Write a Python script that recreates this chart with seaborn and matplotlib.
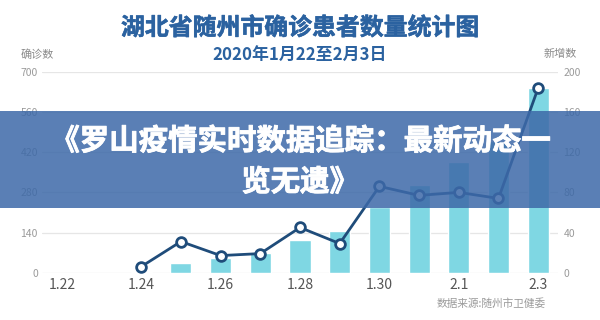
import numpy as np
import pandas as pd
import matplotlib
matplotlib.use("Agg")
import matplotlib.pyplot as plt
import matplotlib.patheffects as pe
import seaborn as sns
from matplotlib.patches import Rectangle

sns.set_theme(style="white")
plt.rcParams['font.family'] = ['Noto Sans CJK SC', 'DejaVu Sans']

dates = ["1.22", "1.23", "1.24", "1.25", "1.26", "1.27", "1.28", "1.29",
         "1.30", "1.31", "2.1", "2.2", "2.3"]
confirmed = [0, 0, 3, 34, 51, 70, 115, 144, 228, 305, 385, 459, 643]
new_cases = [np.nan, np.nan, 6, 31, 17, 19, 45, 29, 86, 77, 80, 74, 184]
shown_ticks = ["1.22", "1.24", "1.26", "1.28", "1.30", "2.1", "2.3"]
left_ticks = [0, 140, 280, 420, 560, 700]
right_ticks = [0, 40, 80, 120, 160, 200]

title = "湖北省随州市确诊患者数量统计图"
subtitle = "2020年1月22至2月3日"
left_label = "确诊数"
right_label = "新增数"
source = "数据来源:随州市卫健委"
banner_l1 = "《罗山疫情实时数据追踪：最新动态一"
banner_l2 = "览无遗》"

df = pd.DataFrame({"date": dates, "confirmed": confirmed, "new": new_cases,
                   "pos": np.arange(len(dates))})

fig = plt.figure(figsize=(6, 3.2), dpi=100)
ax = fig.add_axes([0.07, 0.148, 0.86, 0.627])

sns.barplot(data=df, x="date", y="confirmed", color="#7fd7e3", saturation=1,
            width=0.53, ax=ax, zorder=2)
ax.set_ylim(0, 700)
ax.set_xlim(-0.5, len(dates) - 0.5)
ax.set_yticks(left_ticks)
ax.set_yticklabels([str(t) for t in left_ticks], color="#9a9a9a", fontsize=7.5)
ax.yaxis.grid(True, color="#e6e6e6", linewidth=0.9, zorder=0)
ax.set_axisbelow(True)
ax.set_xticks([dates.index(d) for d in shown_ticks])
ax.set_xticklabels(shown_ticks, fontsize=10, color="#555555")
ax.tick_params(axis="x", length=0, pad=4)
ax.tick_params(axis="y", length=0, pad=3)
ax.set_xlabel("")
ax.set_ylabel("")
for s in ax.spines.values():
    s.set_visible(False)

ax2 = ax.twinx()
sns.lineplot(data=df.dropna(), x="pos", y="new", color="#1f4c7a", linewidth=2,
             marker="o", markersize=7, markerfacecolor="white",
             markeredgecolor="#1f4c7a", markeredgewidth=2, ax=ax2, zorder=3)
ax2.set_ylim(0, 200)
ax2.set_xlim(-0.5, len(dates) - 0.5)
ax2.set_yticks(right_ticks)
ax2.set_yticklabels([str(t) for t in right_ticks], color="#9a9a9a", fontsize=7.5)
ax2.tick_params(axis="y", length=0, pad=4)
ax2.set_xlabel("")
ax2.set_ylabel("")
for s in ax2.spines.values():
    s.set_visible(False)

tcol = "#2b62a0"
fig.text(0.5, 0.9125, title, ha="center", va="center", fontsize=17.2,
         fontweight="bold", color=tcol,
         path_effects=[pe.withStroke(linewidth=0.4, foreground=tcol)])
fig.text(0.5, 0.827, subtitle, ha="center", va="center", fontsize=12.2,
         fontweight="bold", color=tcol)
fig.text(0.035, 0.831, left_label, ha="left", va="center", fontsize=8, color="#8a8a8a")
fig.text(0.962, 0.831, right_label, ha="right", va="center", fontsize=8, color="#8a8a8a")
fig.text(0.91, 0.053, source, ha="right", va="center", fontsize=7.7, color="#9a9a9a")

banner = Rectangle((0, 1 - 208 / 320), 1, 96.5 / 320, transform=fig.transFigure,
                   facecolor="#3d69a8", alpha=0.85, edgecolor="none", zorder=5)
fig.patches.append(banner)
for txt, ypix in [(banner_l1, 141), (banner_l2, 182)]:
    fig.text(0.5, 1 - ypix / 320, txt, ha="center", va="center", fontsize=21.2,
             fontweight="bold", color="white", zorder=6,
             path_effects=[pe.withStroke(linewidth=0.6, foreground="white")])

fig.savefig("out.png", dpi=100, facecolor="white")
